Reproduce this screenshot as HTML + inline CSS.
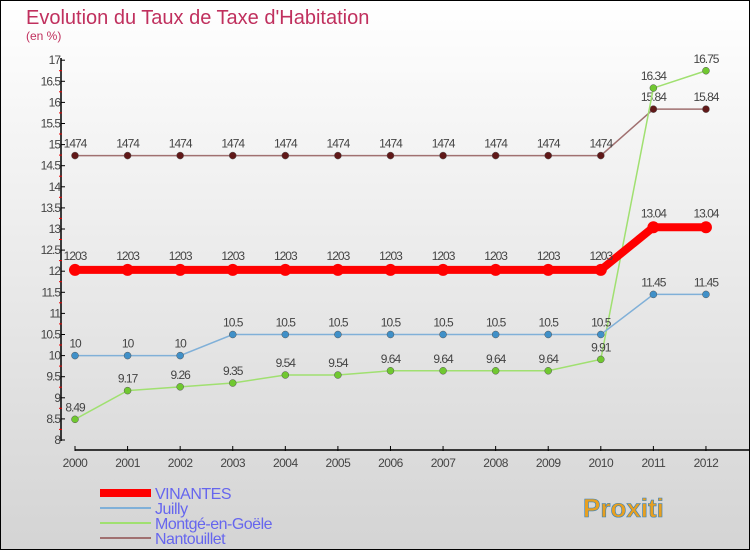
<!DOCTYPE html>
<html><head><meta charset="utf-8"><style>
html,body{margin:0;padding:0}
body{width:750px;height:550px;overflow:hidden;font-family:"Liberation Sans",sans-serif}
</style></head><body>
<svg id="chart" width="750" height="550" xmlns="http://www.w3.org/2000/svg">
<defs><linearGradient id="bg" x1="0" y1="0" x2="0" y2="1"><stop offset="0" stop-color="#ffffff"/><stop offset="1" stop-color="#d4d4d4"/></linearGradient></defs>
<rect x="0.5" y="0.5" width="749" height="549" fill="url(#bg)" stroke="#000"/>
<text x="26" y="24" font-size="20" fill="#c0305e">Evolution du Taux de Taxe d'Habitation</text>
<text x="26" y="40" font-size="12" fill="#c0305e">(en %)</text>
<g id="axes"></g><g id="series"></g><g id="legend"></g>
<text x="583" y="517" font-size="26" font-weight="bold" fill="#e8a020" stroke="#3080c0" stroke-width="0.6">Proxiti</text>
</svg>
<script>
const years=[2000,2001,2002,2003,2004,2005,2006,2007,2008,2009,2010,2011,2012];
const vinantes=[12.03,12.03,12.03,12.03,12.03,12.03,12.03,12.03,12.03,12.03,12.03,13.04,13.04];
const juilly=[10,10,10,10.5,10.5,10.5,10.5,10.5,10.5,10.5,10.5,11.45,11.45];
const montge=[8.49,9.17,9.26,9.35,9.54,9.54,9.64,9.64,9.64,9.64,9.91,16.34,16.75];
const nantouillet=[14.74,14.74,14.74,14.74,14.74,14.74,14.74,14.74,14.74,14.74,14.74,15.84,15.84];
const yTicks=[8,8.5,9,9.5,10,10.5,11,11.5,12,12.5,13,13.5,14,14.5,15,15.5,16,16.5,17];
const yLabels=["8","8.5","9","9.5","10","10.5","11","11.5","12","12.5","13","13.5","14","14.5","15","15.5","16","16.5","17"];
const seriesNames=["VINANTES","Juilly","Montgé-en-Goële","Nantouillet"];
const NS="http://www.w3.org/2000/svg";
const X=i=>75+i*52.58, Y=v=>440-(v-8)*42.2;
function mk(p,t,a){const e=document.createElementNS(NS,t);for(const k in a)e.setAttribute(k,a[k]);p.appendChild(e);return e;}
const ax=document.getElementById('axes');
let l=mk(ax,'line',{x1:61,y1:58,x2:61,y2:441,stroke:'#000','stroke-width':1.5});


yTicks.forEach((v,i)=>{const y=Y(v);
 let t=mk(ax,'line',{x1:61,y1:y,x2:65,y2:y,stroke:'#000'});
 
 
 if(i>0){
 let m=mk(ax,'line',{x1:59,y1:y+10.5,x2:62,y2:y+10.5,stroke:'#e00'});
 
 
 }
 let tx=mk(ax,'text',{x:60,y:y+4,'font-size':12,'text-anchor':'end',fill:'#444','letter-spacing':'-1'});
 tx.textContent=yLabels[i];
 
 
});
l=mk(ax,'line',{x1:75,y1:450,x2:750,y2:450,stroke:'#000','stroke-width':1.5});


years.forEach((yr,i)=>{const x=X(i);
 let t=mk(ax,'line',{x1:x,y1:446,x2:x,y2:451,stroke:'#000'});
 
 
 let tx=mk(ax,'text',{x:x,y:467,'font-size':12,'text-anchor':'middle',fill:'#444','letter-spacing':'-0.5'});
 tx.textContent=yr;
 
 
});
const sg=document.getElementById('series');
const defs=[
 {d:nantouillet,c:'#a07070',dot:'#601818',w:1.5,r:3.5,n:'nantouillet'},
 {d:montge,c:'#a0e070',dot:'#70c830',w:1.5,r:3.5,n:'montge'},
 {d:juilly,c:'#80b0d8',dot:'#4090c8',w:1.5,r:3.5,n:'juilly'},
 {d:vinantes,c:'#ff0000',dot:'#ff0000',w:8,r:6,n:'vinantes'}];
defs.forEach(s=>{
 let p=mk(sg,'polyline',{points:s.d.map((v,i)=>X(i)+','+Y(v)).join(' '),fill:'none',stroke:s.c,'stroke-width':s.w});
 
 
 s.d.forEach((v,i)=>{
  let c=mk(sg,'circle',{cx:X(i),cy:Y(v),r:s.r,fill:s.dot,stroke:s.n==='vinantes'?'none':'#555','stroke-width':0.5});
  
  
  let t=mk(sg,'text',{x:X(i),y:Y(v)-(s.n==='vinantes'?10:8),'font-size':12,'text-anchor':'middle',fill:'#444','letter-spacing':'-1'});
  t.textContent=((s.n==='nantouillet'||s.n==='vinantes')&&i<11)?String(v).replace('.',''):String(v);
  
  
 });
});
const lg=document.getElementById('legend');
const lc=['#ff0000','#80b0d8','#a0e070','#a07070'],lw=[8,2,2,2];
seriesNames.forEach((n,i)=>{const y=493+i*15;
 let l=mk(lg,'line',{x1:100,y1:y,x2:151,y2:y,stroke:lc[i],'stroke-width':lw[i]});
 
 
 let t=mk(lg,'text',{x:155,y:y+6,'font-size':16,fill:'#6666ee','letter-spacing':'-0.5'});
 t.textContent=n;
 
 
});
</script>
</body></html>
